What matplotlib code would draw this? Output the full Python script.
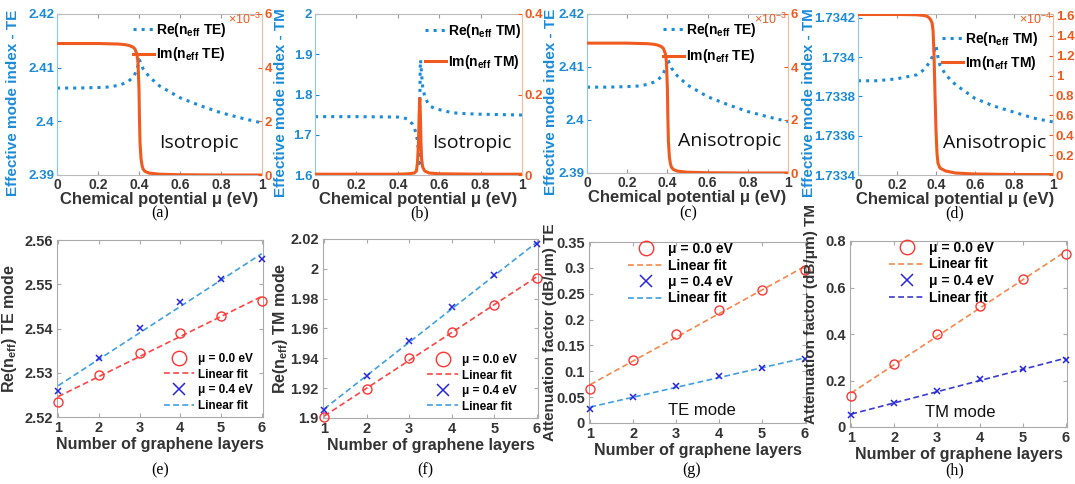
import matplotlib
matplotlib.use('Agg')
import matplotlib.pyplot as plt
import numpy as np
from matplotlib.ticker import FuncFormatter

plt.rcParams['font.family'] = ['Liberation Sans', 'DejaVu Sans']
plt.rcParams['mathtext.fontset'] = 'custom'
plt.rcParams['mathtext.rm'] = 'Liberation Sans'
plt.rcParams['mathtext.bf'] = 'Liberation Sans:bold'
plt.rcParams['mathtext.it'] = 'Liberation Sans:italic'

# ---- effective index vs chemical potential (top row) ----
# (a) isotropic TE
mu_re_a = [0, 0.1, 0.2, 0.25, 0.3, 0.33, 0.35, 0.37, 0.38, 0.39, 0.395, 0.4,
           0.405, 0.41, 0.42, 0.45, 0.5, 0.6, 0.7, 0.8, 0.9, 1.0]
re_a = [2.4062, 2.4062, 2.4063, 2.4064, 2.4067, 2.4071, 2.4075, 2.4082, 2.4088,
        2.4097, 2.4104, 2.4115, 2.4112, 2.4106, 2.4098, 2.4083, 2.4066, 2.4044,
        2.4029, 2.4016, 2.4006, 2.3997]
mu_im_a = [0, 0.1, 0.2, 0.25, 0.3, 0.33, 0.35, 0.37, 0.38, 0.39, 0.395, 0.4,
           0.402, 0.405, 0.41, 0.415, 0.42, 0.43, 0.45, 0.5, 0.6, 0.8, 1.0]
im_a = [4.9, 4.9, 4.9, 4.89, 4.88, 4.86, 4.83, 4.77, 4.7, 4.5, 4.2, 3.2, 2.2,
        1.2, 0.6, 0.35, 0.22, 0.13, 0.07, 0.03, 0.01, 0.0, 0.0]   # x1e-3

# (b) isotropic TM
mu_re_b = [0, 0.2, 0.4, 0.43, 0.45, 0.47, 0.48, 0.49, 0.495, 0.5, 0.503, 0.506,
           0.508, 0.51, 0.515, 0.52, 0.53, 0.545, 0.56, 0.58, 0.62, 0.66, 0.7,
           0.8, 1.0]
re_b = [1.745, 1.745, 1.744, 1.742, 1.738, 1.727, 1.717, 1.700, 1.685, 1.66,
        1.62, 1.75, 1.86, 1.886, 1.85, 1.82, 1.795, 1.779, 1.77, 1.765, 1.76,
        1.755, 1.753, 1.751, 1.749]
mu_im_b = [0, 0.2, 0.4, 0.45, 0.48, 0.49, 0.495, 0.5, 0.503, 0.506, 0.509,
           0.512, 0.515, 0.52, 0.53, 0.55, 0.6, 0.8, 1.0]
im_b = [0.002, 0.002, 0.002, 0.003, 0.005, 0.01, 0.03, 0.08, 0.15, 0.19, 0.15,
        0.08, 0.04, 0.02, 0.01, 0.005, 0.003, 0.002, 0.002]

# (c) anisotropic TE
mu_re_c = [0, 0.1, 0.2, 0.25, 0.3, 0.33, 0.35, 0.37, 0.38, 0.39, 0.395, 0.4,
           0.405, 0.41, 0.42, 0.45, 0.5, 0.6, 0.7, 0.8, 0.9, 1.0]
re_c = [2.4062, 2.4062, 2.4063, 2.4064, 2.4067, 2.4071, 2.4075, 2.4082, 2.4088,
        2.4097, 2.4104, 2.4115, 2.4112, 2.4106, 2.4098, 2.4083, 2.4066, 2.4044,
        2.4029, 2.4016, 2.4006, 2.3997]
mu_im_c = [0, 0.1, 0.2, 0.25, 0.3, 0.33, 0.35, 0.37, 0.38, 0.39, 0.395, 0.4,
           0.402, 0.405, 0.41, 0.415, 0.42, 0.43, 0.45, 0.5, 0.6, 0.8, 1.0]
im_c = [4.9, 4.9, 4.9, 4.89, 4.88, 4.86, 4.83, 4.77, 4.7, 4.5, 4.2, 3.2, 2.2,
        1.2, 0.6, 0.35, 0.22, 0.13, 0.07, 0.03, 0.01, 0.0, 0.0]   # x1e-3

# (d) anisotropic TM
mu_re_d = [0, 0.1, 0.2, 0.25, 0.3, 0.33, 0.35, 0.37, 0.38, 0.39, 0.395, 0.4,
           0.405, 0.41, 0.42, 0.45, 0.5, 0.6, 0.7, 0.8, 0.9, 1.0]
re_d = [1.73388, 1.73388, 1.73389, 1.7339, 1.73391, 1.73393, 1.73395, 1.73398,
        1.734, 1.73403, 1.73405, 1.73406, 1.73403, 1.734, 1.73396, 1.73391,
        1.73386, 1.73379, 1.73375, 1.73372, 1.73369, 1.73367]
mu_im_d = [0, 0.1, 0.2, 0.25, 0.3, 0.33, 0.35, 0.36, 0.37, 0.38, 0.385, 0.39,
           0.395, 0.4, 0.405, 0.41, 0.42, 0.45, 0.5, 0.6, 0.8, 1.0]
im_d = [1.615, 1.615, 1.615, 1.614, 1.612, 1.607, 1.6, 1.59, 1.57, 1.53, 1.45,
        1.2, 0.8, 0.45, 0.22, 0.12, 0.07, 0.04, 0.02, 0.01, 0.005, 0.004]  # x1e-4

# ---- layer dependence (bottom row) ----
layers = [1, 2, 3, 4, 5, 6]
re_te_0 = [2.5235, 2.5295, 2.5345, 2.5390, 2.5428, 2.5463]
re_te_4 = [2.5258, 2.5333, 2.5401, 2.5460, 2.5511, 2.5557]
re_tm_0 = [1.9007, 1.9197, 1.9400, 1.9575, 1.9760, 1.9940]
re_tm_4 = [1.9053, 1.9282, 1.9518, 1.9741, 1.9959, 2.0165]
att_te_0 = [0.066, 0.122, 0.172, 0.218, 0.258, 0.295]
att_te_4 = [0.028, 0.050, 0.072, 0.090, 0.107, 0.123]
att_tm_0 = [0.135, 0.27, 0.40, 0.52, 0.635, 0.745]
att_tm_4 = [0.05, 0.105, 0.155, 0.205, 0.25, 0.29]

BLUE = '#1B8BD8'
ORANGE = '#F05A1E'
RED = '#FF3434'
XBLUE = '#2626DD'
DARK = '#333333'
W, H = 1075, 484

fig = plt.figure(figsize=(W / 100, H / 100), dpi=100)
fmt = FuncFormatter(lambda v, p: f'{v:g}')


def rect(l, t, r, b):
    return [l / W, 1 - b / H, (r - l) / W, (b - t) / H]


def top_panel(box, mu_re, re, mu_im, im, ylim, yticks, rylim, rticks, mode,
              scale, note, note_x, leg_xy, leg_sp, ylab_x, tag, tag_x):
    ax = fig.add_axes(rect(*box))
    ax2 = ax.twinx()
    l1, = ax.plot(mu_re, re, ':', color=BLUE, lw=2.2,
                  label=r'Re(n$_\mathbf{eff}$ ' + mode + ')')
    l2, = ax2.plot(mu_im, im, '-', color=ORANGE, lw=2.2,
                   label=r'Im(n$_\mathbf{eff}$ ' + mode + ')')
    ax.set_xlim(0, 1)
    ax.set_ylim(*ylim)
    ax.set_yticks(yticks)
    ax2.set_ylim(*rylim)
    ax2.set_yticks(rticks)
    ax.set_xticks(np.arange(0, 1.01, 0.2))
    for a in (ax, ax2):
        a.xaxis.set_major_formatter(fmt)
        a.yaxis.set_major_formatter(fmt)
    ax.tick_params(axis='x', direction='in', length=3, color='#999999',
                   labelcolor=DARK, labelsize=10, pad=2, top=True)
    ax.tick_params(axis='y', direction='in', length=3, color=BLUE,
                   labelcolor=BLUE, labelsize=9.5, pad=2)
    ax2.tick_params(axis='y', direction='in', length=3, color=ORANGE,
                    labelcolor=ORANGE, labelsize=9.5, pad=2)
    for lab in ax.get_xticklabels() + ax.get_yticklabels() + ax2.get_yticklabels():
        lab.set_fontweight('bold')
    for s in ('top', 'bottom'):
        ax.spines[s].set_color('#BBBBBB')
    ax.spines['left'].set_color('#8EC6EE')
    ax.spines['right'].set_visible(False)
    for s in ('top', 'bottom', 'left'):
        ax2.spines[s].set_visible(False)
    ax2.spines['right'].set_color('#F7B99C')
    ax.set_xlabel('Chemical potential μ (eV)', fontsize=12, fontweight='bold',
                  color=DARK, labelpad=0)
    ax.set_ylabel('Effective mode index - ' + mode, fontsize=11,
                  fontweight='bold', color=BLUE)
    ax.yaxis.set_label_coords(ylab_x, 0.45)
    # exponent of the right-hand axis, tucked under the top tick label
    ax2.text(0.995, 0.965, scale, transform=ax2.transAxes, ha='right',
             va='center', color=ORANGE, fontsize=9)
    ax2.legend(handles=[l1, l2], loc='upper left', bbox_to_anchor=leg_xy,
               frameon=False, borderpad=0, borderaxespad=0, handlelength=1.5,
               handletextpad=0.15, labelspacing=leg_sp,
               prop={'weight': 'bold', 'size': 10})
    ax2.text(note_x, 0.20, note, transform=ax2.transAxes, ha='center',
             va='center', fontsize=14, family='Open Sans', color='#111111')
    fig.text(tag_x / W, 1 - 213 / H, tag, ha='center', va='center',
             family='Liberation Serif', fontsize=11.5)


def bottom_panel(box, y0, y4, ylim, yticks, ylabel, ylab_xy, ylab_size, c_fit0,
                 c_fit4, leg_loc, leg_xy, leg_size, leg_sp, tag, tag_x,
                 note=None, note_xy=None):
    ax = fig.add_axes(rect(*box))
    ax.plot(layers, y0, 'o', mfc='none', mec=RED, ms=6.5, mew=1.0,
            clip_on=False, label='μ = 0.0 eV', zorder=3)
    ax.plot(layers, np.polyval(np.polyfit(layers, y0, 1), layers), '--',
            color=c_fit0, lw=1.2, dashes=(3.5, 2), label='Linear fit')
    ax.plot(layers, y4, 'x', color=XBLUE, ms=5, mew=1.1, clip_on=False,
            label='μ = 0.4 eV', zorder=3)
    ax.plot(layers, np.polyval(np.polyfit(layers, y4, 1), layers), '--',
            color=c_fit4, lw=1.2, dashes=(3.5, 2), label='Linear fit')
    ax.set_xlim(0.97, 6.03)
    ax.set_ylim(*ylim)
    ax.set_yticks(yticks)
    ax.set_xticks(layers)
    ax.xaxis.set_major_formatter(fmt)
    ax.yaxis.set_major_formatter(fmt)
    ax.tick_params(direction='in', length=3, color='#AAAAAA', labelcolor=DARK,
                   labelsize=10.5, top=True, right=True, pad=3)
    for lab in ax.get_xticklabels() + ax.get_yticklabels():
        lab.set_fontweight('bold')
    for s in ax.spines.values():
        s.set_color('#AAAAAA')
    ax.set_xlabel('Number of graphene layers', fontsize=11.5,
                  fontweight='bold', color=DARK, labelpad=1)
    ax.set_ylabel(ylabel, fontsize=ylab_size, fontweight='bold', color=DARK)
    ax.yaxis.set_label_coords(*ylab_xy)
    ax.legend(loc=leg_loc, bbox_to_anchor=leg_xy, frameon=False, borderpad=0,
              borderaxespad=0, handlelength=2.6, handletextpad=0.3,
              labelspacing=leg_sp, markerscale=1.6,
              prop={'weight': 'bold', 'size': leg_size})
    if note:
        ax.text(note_xy[0], note_xy[1], note, transform=ax.transAxes,
                ha='center', va='center', fontsize=12, color='#111111')
    fig.text(tag_x / W, 1 - 470 / H, tag, ha='center', va='center',
             family='Liberation Serif', fontsize=11.5)


top_panel((57, 14, 262, 175), mu_re_a, re_a, mu_im_a, im_a, (2.39, 2.42),
          [2.39, 2.40, 2.41, 2.42], (0, 6), [0, 2, 4, 6], 'TE',
          r'$\times10^{-3}$', 'Isotropic', 0.69, (0.37, 0.955), 0.45, -0.18,
          '(a)', 160)
top_panel((315, 14, 522, 175), mu_re_b, re_b, mu_im_b, im_b, (1.6, 2.0),
          [1.6, 1.7, 1.8, 1.9, 2.0], (0, 0.4), [0, 0.2, 0.4], 'TM',
          '', 'Isotropic', 0.76, (0.53, 0.95), 0.95, -0.13, '(b)', 420)
top_panel((587, 14, 788, 173), mu_re_c, re_c, mu_im_c, im_c, (2.39, 2.42),
          [2.39, 2.40, 2.41, 2.42], (0, 6), [0, 2, 4, 6], 'TE',
          r'$\times10^{-3}$', 'Anisotropic', 0.71, (0.38, 0.955), 0.6, -0.144,
          '(c)', 688)
top_panel((858, 14, 1053, 175), mu_re_d, re_d, mu_im_d, im_d,
          (1.7334, 1.73422), [1.7334, 1.7336, 1.7338, 1.734, 1.7342],
          (0, 1.62), [0, 0.2, 0.4, 0.6, 0.8, 1.0, 1.2, 1.4, 1.6], 'TM',
          r'$\times10^{-4}$', 'Anisotropic', 0.70, (0.43, 0.9), 0.4, -0.215,
          '(d)', 955)

bottom_panel((57, 240, 263, 417), re_te_0, re_te_4, (2.52, 2.56),
             [2.52, 2.53, 2.54, 2.55, 2.56], r'Re(n$_\mathbf{eff}$) TE mode',
             (-0.185, 0.5), 11.5, '#FF4444', '#3FA0E0', 'lower right',
             (0.95, 0.03), 8.5, 0.3, '(e)', 160)
bottom_panel((323, 239, 538, 418), re_tm_0, re_tm_4, (1.9, 2.02),
             [1.9, 1.92, 1.94, 1.96, 1.98, 2.0, 2.02],
             r'Re(n$_\mathbf{eff}$) TM mode', (-0.153, 0.5), 11.5,
             '#FF4444', '#3FA0E0', 'lower right', (0.9, 0.03), 8.5, 0.3,
             '(f)', 425)
bottom_panel((589, 242, 806, 423), att_te_0, att_te_4, (0, 0.35),
             [0, 0.05, 0.1, 0.15, 0.2, 0.25, 0.3, 0.35],
             'Attenuation factor (dB/μm) TE', (-0.147, 0.5), 11, '#F4874B',
             '#3FA0E0', 'upper left', (0.18, 1.0), 10, 0.18, '(g)', 692,
             note='TE mode', note_xy=(0.52, 0.07))
bottom_panel((850, 241, 1067, 427), att_tm_0, att_tm_4, (0, 0.8),
             [0, 0.2, 0.4, 0.6, 0.8],
             'Attenuation factor (dB/μm) TM', (-0.147, 0.61), 11, '#F4874B',
             '#3A3AD0', 'upper left', (0.18, 1.0), 10, 0.18, '(h)', 955,
             note='TM mode', note_xy=(0.51, 0.08))

fig.savefig('out.png', dpi=100)
